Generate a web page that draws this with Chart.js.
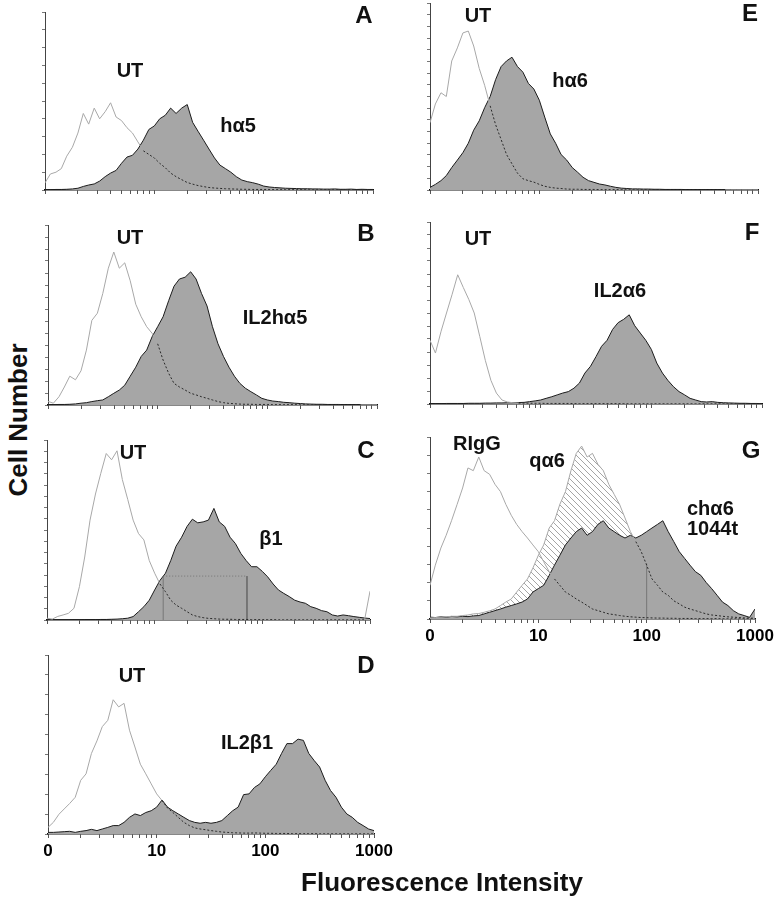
<!DOCTYPE html>
<html>
<head>
<meta charset="utf-8">
<script src="https://cdn.jsdelivr.net/npm/chart.js@4.4.1/dist/chart.umd.min.js"></script>
<style>
  body { margin: 0; background: #fff; width: 776px; height: 899px; position: relative; overflow: hidden;
         font-family: "Liberation Sans", Arial, Helvetica, sans-serif; }
  canvas { position: absolute; }
  .t { position: absolute; font-weight: bold; color: #111; white-space: nowrap; line-height: 1;
       transform: translate(-50%, -50%); }
  .t.left { transform: translate(0, -50%); }
</style>
</head>
<body>
<script>
// fluorescence channels (log spaced, 20 per decade), 1 .. 1000
const channels = [1, 1.12, 1.26, 1.41, 1.58, 1.78, 2, 2.24, 2.51, 2.82, 3.16, 3.55, 3.98, 4.47, 5.01, 5.62, 6.31, 7.08, 7.94, 8.91,
  10, 11.2, 12.6, 14.1, 15.8, 17.8, 20, 22.4, 25.1, 28.2, 31.6, 35.5, 39.8, 44.7, 50.1, 56.2, 63.1, 70.8, 79.4, 89.1,
  100, 112, 126, 141, 158, 178, 200, 224, 251, 282, 316, 355, 398, 447, 501, 562, 631, 708, 794, 891, 1000];

const xTicks = [1, 2, 3, 4, 5, 6, 7, 8, 9, 10, 20, 30, 40, 50, 60, 70, 80, 90, 100, 200, 300, 400, 500, 600, 700, 800, 900, 1000];
const xLabels = { 1: '0', 10: '10', 100: '100', 1000: '1000' };

// cell counts (axis height = 10)
const utA = [0.4, 0.9, 1.0, 1.2, 1.9, 2.4, 3.2, 4.3, 3.7, 4.6,
  4.0, 4.4, 4.9, 4.1, 3.9, 3.5, 3.2, 2.7, 2.2, 2.0,
  1.8, 1.5, 1.25, 0.95, 0.75, 0.58, 0.42, 0.33, 0.25, 0.19,
  0.14, 0.11, 0.09, 0.07, 0.06, 0.05, 0.04, 0.04, 0.03, 0.03,
  0.03, 0.03, 0.02, 0.02, 0.02, 0.02, 0.02, 0.02, 0.01, 0.01,
  0.01, 0.01, 0.01, 0.01, 0.01, 0.01, 0.01, 0.01, 0.01, 0.01, 0.01];
const ha5 = [0.02, 0.02, 0.03, 0.03, 0.04, 0.06, 0.1, 0.2, 0.28, 0.34,
  0.5, 0.75, 0.95, 1.1, 1.5, 1.85, 1.95, 2.3, 2.8, 3.4,
  3.6, 4.0, 4.2, 4.6, 4.3, 4.6, 4.8, 3.8, 3.3, 2.8,
  2.3, 1.8, 1.4, 1.2, 1.0, 0.75, 0.56, 0.47, 0.41, 0.33,
  0.22, 0.17, 0.14, 0.12, 0.1, 0.09, 0.08, 0.07, 0.07, 0.06,
  0.06, 0.05, 0.05, 0.06, 0.04, 0.04, 0.05, 0.03, 0.04, 0.03, 0.03];

const utE = [3.6, 4.6, 5.2, 5.0, 6.9, 7.6, 8.4, 8.5, 7.7, 6.5,
  5.6, 4.5, 3.5, 2.7, 1.9, 1.4, 0.9, 0.6, 0.5, 0.42,
  0.3, 0.2, 0.14, 0.1, 0.08, 0.05, 0.04, 0.04, 0.03, 0.03,
  0.03, 0.02, 0.02, 0.02, 0.02, 0.02, 0.01, 0.01, 0.01, 0.01,
  0.01, 0.01, 0.01, 0.01, 0.01, 0.01, 0.01, 0.01, 0.01, 0.01,
  0.01, 0.01, 0.01, 0.01, 0.01, 0.01, 0.01, 0.01, 0.01, 0.01, 0.01];
const ha6 = [0.14, 0.3, 0.5, 0.77, 1.2, 1.6, 2.0, 2.5, 3.2, 3.7,
  4.4, 5.0, 5.9, 6.6, 6.9, 7.1, 6.6, 6.3, 5.7, 5.4,
  4.8, 3.9, 3.0, 2.5, 1.9, 1.6, 1.2, 0.95, 0.68, 0.5,
  0.41, 0.32, 0.27, 0.2, 0.14, 0.1, 0.08, 0.06, 0.06, 0.05,
  0.05, 0.04, 0.04, 0.03, 0.03, 0.03, 0.03, 0.02, 0.02, 0.02,
  0.02, 0.02, 0.02, 0.02, 0.02, 0.01, 0.01, 0.01, 0.01, 0.01, 0.01];

const utB = [0.2, 0.1, 0.46, 1.0, 1.6, 1.4, 1.9, 3.05, 4.7, 5.1,
  6.2, 7.6, 8.5, 7.6, 7.9, 6.9, 5.6, 4.9, 4.35, 3.98,
  3.4, 2.5, 1.76, 1.2, 1.0, 0.83, 0.65, 0.56, 0.46, 0.37,
  0.28, 0.19, 0.13, 0.09, 0.07, 0.05, 0.04, 0.04, 0.03, 0.03,
  0.03, 0.02, 0.02, 0.02, 0.02, 0.02, 0.01, 0.01, 0.01, 0.01,
  0.01, 0.01, 0.01, 0.01, 0.01, 0.01, 0.01, 0.01, 0.01, 0.01, 0.01];
const il2ha5 = [0.02, 0.02, 0.03, 0.03, 0.04, 0.06, 0.1, 0.13, 0.19, 0.24,
  0.28, 0.46, 0.65, 0.83, 1.1, 1.6, 2.1, 2.7, 3.05, 3.8,
  4.35, 4.9, 5.8, 6.6, 7.0, 7.1, 7.4, 7.0, 6.2, 5.5,
  4.35, 3.4, 2.7, 2.1, 1.6, 1.2, 0.93, 0.74, 0.56, 0.37,
  0.28, 0.22, 0.19, 0.15, 0.13, 0.1, 0.08, 0.06, 0.05, 0.04,
  0.04, 0.03, 0.03, 0.03, 0.02, 0.02, 0.02, 0.02, 0.01, 0.01, 0.01];

const utF = [3.5, 2.8, 4.0, 5.0, 6.0, 7.1, 6.4, 5.75, 5.0, 3.7,
  2.4, 1.3, 0.6, 0.22, 0.11, 0.07, 0.05, 0.05, 0.04, 0.04,
  0.04, 0.03, 0.03, 0.03, 0.03, 0.03, 0.02, 0.02, 0.02, 0.02,
  0.02, 0.02, 0.02, 0.02, 0.02, 0.02, 0.01, 0.01, 0.01, 0.01,
  0.01, 0.01, 0.01, 0.01, 0.01, 0.01, 0.01, 0.01, 0.01, 0.01,
  0.01, 0.01, 0.01, 0.01, 0.01, 0.01, 0.01, 0.01, 0.01, 0.01, 0.01];
const il2a6 = [0.02, 0.02, 0.02, 0.03, 0.03, 0.03, 0.03, 0.04, 0.04, 0.04,
  0.05, 0.05, 0.06, 0.06, 0.07, 0.07, 0.08, 0.09, 0.13, 0.17,
  0.22, 0.31, 0.4, 0.5, 0.6, 0.68, 0.87, 1.15, 1.7, 2.07,
  2.6, 3.17, 3.5, 4.1, 4.47, 4.65, 4.9, 4.3, 3.9, 3.5,
  3.0, 2.25, 1.7, 1.3, 0.96, 0.68, 0.5, 0.31, 0.22, 0.13,
  0.11, 0.13, 0.09, 0.07, 0.06, 0.05, 0.04, 0.04, 0.03, 0.03, 0.02];

const utC = [0.1, 0.05, 0.2, 0.28, 0.37, 0.65, 1.85, 3.5, 5.55, 7.0,
  8.15, 9.25, 8.9, 9.4, 7.8, 6.7, 5.55, 4.8, 4.45, 3.3,
  2.6, 2.0, 1.57, 1.1, 0.83, 0.65, 0.46, 0.28, 0.19, 0.13,
  0.09, 0.07, 0.05, 0.04, 0.04, 0.03, 0.03, 0.03, 0.02, 0.02,
  0.02, 0.02, 0.02, 0.01, 0.01, 0.01, 0.01, 0.01, 0.01, 0.01,
  0.01, 0.01, 0.01, 0.01, 0.01, 0.01, 0.01, 0.01, 0.01, 0.01, 1.6];
const b1 = [0.01, 0.01, 0.01, 0.01, 0.01, 0.01, 0.01, 0.02, 0.02, 0.02,
  0.03, 0.03, 0.04, 0.05, 0.07, 0.1, 0.19, 0.46, 0.74, 1.1,
  1.67, 2.2, 2.6, 3.3, 4.1, 4.6, 5.2, 5.6, 5.4, 5.45,
  5.55, 6.2, 5.45, 5.2, 4.6, 4.25, 3.7, 3.3, 2.96, 2.96,
  2.7, 2.4, 2.0, 1.67, 1.48, 1.3, 1.1, 1.0, 0.93, 0.74,
  0.65, 0.52, 0.46, 0.28, 0.22, 0.28, 0.24, 0.19, 0.15, 0.11, 0.08];
const gateC = [{ x: 12, y: 0 }, { x: 12, y: 2.44 }, { x: 72, y: 2.44 }, { x: 72, y: 0 }];

const utD = [0.37, 0.65, 1.1, 1.4, 1.7, 2.05, 3.0, 3.36, 4.5, 5.2,
  6.0, 6.35, 7.5, 7.1, 7.3, 5.8, 4.86, 3.9, 3.36, 2.8,
  2.24, 1.87, 1.45, 1.2, 0.93, 0.65, 0.47, 0.34, 0.28, 0.24,
  0.19, 0.15, 0.11, 0.09, 0.07, 0.06, 0.05, 0.05, 0.06, 0.05,
  0.04, 0.04, 0.03, 0.03, 0.03, 0.02, 0.02, 0.02, 0.02, 0.02,
  0.01, 0.01, 0.01, 0.01, 0.01, 0.01, 0.01, 0.01, 0.01, 0.01, 0.01];
const il2b1 = [0.09, 0.09, 0.11, 0.13, 0.15, 0.09, 0.15, 0.19, 0.26, 0.19,
  0.28, 0.37, 0.47, 0.47, 0.65, 0.93, 1.12, 1.03, 1.2, 1.3,
  1.5, 1.9, 1.5, 1.3, 1.12, 0.93, 0.75, 0.65, 0.6, 0.65,
  0.6, 0.65, 0.75, 1.03, 1.3, 1.5, 2.2, 2.24, 2.6, 2.8,
  3.2, 3.55, 3.9, 4.5, 5.05, 5.05, 5.3, 5.23, 4.5, 4.1,
  3.74, 3.0, 2.43, 2.05, 1.5, 1.12, 0.93, 0.65, 0.47, 0.28, 0.19];

const rigG = [1.85, 2.96, 3.9, 4.6, 5.4, 6.3, 7.2, 8.3, 8.15, 8.9,
  8.15, 7.95, 7.4, 7.0, 6.3, 5.7, 5.2, 4.8, 4.45, 4.07,
  3.7, 3.15, 2.6, 2.2, 1.85, 1.48, 1.3, 1.1, 0.93, 0.74,
  0.55, 0.46, 0.37, 0.28, 0.24, 0.19, 0.15, 0.12, 0.1, 0.08,
  0.07, 0.06, 0.05, 0.05, 0.04, 0.04, 0.03, 0.03, 0.03, 0.02,
  0.02, 0.02, 0.02, 0.02, 0.01, 0.01, 0.01, 0.01, 0.01, 0.01, 0.01];
const qa6 = [0.05, 0.08, 0.1, 0.12, 0.15, 0.15, 0.19, 0.22, 0.28, 0.3,
  0.37, 0.45, 0.55, 0.74, 0.93, 1.1, 1.48, 1.85, 2.2, 2.8,
  3.5, 4.07, 5.0, 5.4, 6.3, 7.0, 8.15, 9.1, 9.5, 8.9,
  9.1, 8.5, 8.15, 7.4, 6.85, 6.3, 5.55, 4.8, 4.25, 3.7,
  2.96, 2.2, 1.85, 1.48, 1.3, 1.0, 0.83, 0.65, 0.55, 0.46,
  0.37, 0.28, 0.22, 0.19, 0.15, 0.12, 0.1, 0.08, 0.06, 0.05, 0.04];
const cha6 = [0.1, 0.08, 0.12, 0.1, 0.14, 0.12, 0.15, 0.13, 0.17, 0.19,
  0.28, 0.37, 0.46, 0.55, 0.65, 0.74, 0.83, 0.93, 1.1, 1.48,
  1.67, 1.85, 2.4, 2.96, 3.5, 4.07, 4.45, 4.8, 5.0, 4.6,
  4.8, 5.2, 5.4, 5.0, 4.8, 4.6, 4.45, 4.6, 4.45, 4.6,
  4.8, 5.0, 5.2, 5.4, 4.8, 4.25, 3.7, 3.33, 2.96, 2.6,
  2.4, 2.0, 1.67, 1.3, 0.93, 0.74, 0.46, 0.28, 0.19, 0.09, 0.55];
const gateG = [{ x: 100, y: 0 }, { x: 100, y: 3.05 }];

const LINE = '#a8a8a8', DARK = '#2a2a2a', FILL = '#a6a6a6', EDGE = '#1c1c1c';

function pts(vals) {
  return channels.map((x, i) => ({ x: x, y: vals[i] }));
}

function under(vals, ref, c) {
  return vals[c.p0DataIndex] < ref[c.p0DataIndex] && vals[c.p1DataIndex] < ref[c.p1DataIndex];
}

// open histogram: grey where it is visible, dark dashes where it runs through the shaded one
function outline(vals, ref) {
  return {
    data: pts(vals), borderColor: LINE, borderWidth: 1, pointRadius: 0, fill: false,
    segment: {
      borderColor: c => under(vals, ref, c) ? DARK : undefined,
      borderDash: c => under(vals, ref, c) ? [2, 2] : undefined,
    },
  };
}

function shaded(vals) {
  return { data: pts(vals), borderColor: EDGE, borderWidth: 1, backgroundColor: FILL, fill: 'origin', pointRadius: 0 };
}

function gate(points) {
  return {
    data: points, borderColor: '#6a6a6a', borderWidth: 0.8, pointRadius: 0, fill: false,
    segment: { borderDash: c => (points.length > 2 && c.p0DataIndex === 1) ? [1, 2] : undefined },
  };
}

function hatch() {
  const c = document.createElement('canvas');
  c.width = 6; c.height = 6;
  const g = c.getContext('2d');
  g.strokeStyle = '#8e8e8e';
  g.lineWidth = 0.8;
  g.beginPath();
  g.moveTo(0, 0); g.lineTo(6, 6);
  g.moveTo(-1, 5); g.lineTo(1, 7);
  g.moveTo(5, -1); g.lineTo(7, 1);
  g.stroke();
  return g.createPattern(c, 'repeat');
}

const panels = [
  { box: [45, 12, 328, 178], yTicks: 10, labels: false, sets: [outline(utA, ha5), shaded(ha5)] },
  { box: [430, 3, 328, 187], yTicks: 16, labels: false, sets: [outline(utE, ha6), shaded(ha6)] },
  { box: [48, 225, 329, 180], yTicks: 15, labels: false, sets: [outline(utB, il2ha5), shaded(il2ha5)] },
  { box: [430, 222, 332, 182], yTicks: 14, labels: false, sets: [outline(utF, il2a6), shaded(il2a6)] },
  { box: [47, 440, 323, 180], yTicks: 16, labels: false, sets: [outline(utC, b1), gate(gateC), shaded(b1)] },
  { box: [430, 437, 325, 182], yTicks: 10, labels: true, sets: [
      outline(rigG, cha6), outline(qa6, cha6), gate(gateG), shaded(cha6),
      { data: pts(qa6), borderWidth: 0, pointRadius: 0, fill: 'origin', backgroundColor: hatch() }] },
  { box: [48, 655, 326, 179], yTicks: 9, labels: true, sets: [outline(utD, il2b1), shaded(il2b1)] },
];

function makeChart(p) {
  const [L, T, W, H] = p.box;
  const padL = 8, padT = 4, padR = 22, padB = p.labels ? 34 : 8;
  const w = W + padL + padR, h = H + padT + padB;
  const cv = document.createElement('canvas');
  cv.width = w; cv.height = h;
  cv.style.width = w + 'px'; cv.style.height = h + 'px';
  cv.style.left = (L - padL) + 'px'; cv.style.top = (T - padT) + 'px';
  document.body.appendChild(cv);

  new Chart(cv, {
    type: 'line',
    data: { datasets: p.sets },
    options: {
      responsive: false, animation: false, events: [],
      layout: { padding: { left: 0, top: padT, right: padR, bottom: 0 } },
      elements: { line: { tension: 0 } },
      plugins: { legend: { display: false }, tooltip: { enabled: false } },
      scales: {
        x: {
          type: 'logarithmic', min: 1, max: 1000,
          afterBuildTicks: s => { s.ticks = xTicks.map(v => ({ value: v })); },
          afterFit: s => { s.height = padB; s.paddingLeft = 0; s.paddingRight = 0; },
          grid: { drawOnChartArea: false, drawTicks: true, tickLength: 4, color: '#555', lineWidth: 1 },
          border: { color: '#111', width: 1.5 },
          ticks: {
            display: p.labels, autoSkip: false, maxRotation: 0, padding: 3, color: '#000',
            font: { family: '"Liberation Sans", Arial, sans-serif', size: 17, weight: 'bold' },
            callback: v => xLabels[v] || '',
          },
        },
        y: {
          min: 0, max: 10,
          afterFit: s => { s.width = padL; },
          grid: { drawOnChartArea: false, drawTicks: true, tickLength: 3, color: '#777', lineWidth: 1 },
          border: { color: '#444', width: 1 },
          ticks: { display: false, count: p.yTicks + 1 },
        },
      },
    },
  });
}

panels.forEach(makeChart);

// annotations: [text, x, y, size, left-aligned]
const notes = [
  ['A', 364, 15, 24], ['UT', 130, 70, 20], ['h\u03b15', 238, 125, 20],
  ['E', 750, 13, 24], ['UT', 478, 15, 20], ['h\u03b16', 570, 80, 20],
  ['B', 366, 233, 24], ['UT', 130, 237, 20], ['IL2h\u03b15', 275, 317, 20],
  ['F', 752, 232, 24], ['UT', 478, 238, 20], ['IL2\u03b16', 620, 290, 20],
  ['C', 366, 450, 24], ['UT', 133, 452, 20], ['\u03b21', 271, 538, 20],
  ['G', 751, 450, 24], ['RIgG', 477, 443, 20], ['q\u03b16', 547, 460, 20],
  ['ch\u03b16', 687, 508, 20, true], ['1044t', 687, 528, 20, true],
  ['D', 366, 665, 24], ['UT', 132, 675, 20], ['IL2\u03b21', 247, 742, 20],
  ['Fluorescence Intensity', 442, 882, 26],
];
notes.forEach(([txt, x, y, size, left]) => {
  const d = document.createElement('div');
  d.className = left ? 't left' : 't';
  d.textContent = txt;
  d.style.left = x + 'px'; d.style.top = y + 'px'; d.style.fontSize = size + 'px';
  document.body.appendChild(d);
});

const yTitle = document.createElement('div');
yTitle.className = 't';
yTitle.textContent = 'Cell Number';
yTitle.style.left = '18px'; yTitle.style.top = '420px'; yTitle.style.fontSize = '26px';
yTitle.style.transform = 'translate(-50%, -50%) rotate(-90deg)';
document.body.appendChild(yTitle);
</script>
</body>
</html>
